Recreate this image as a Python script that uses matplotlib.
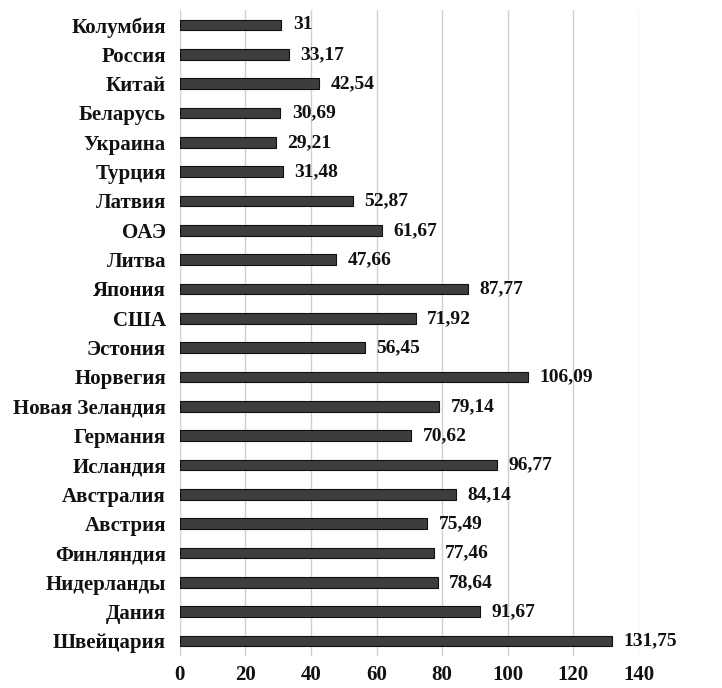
import numpy as np
import matplotlib
matplotlib.use('Agg')
import matplotlib.pyplot as plt

# data, top to bottom as in the picture
countries = ['Колумбия', 'Россия', 'Китай', 'Беларусь', 'Украина', 'Турция', 'Латвия',
             'ОАЭ', 'Литва', 'Япония', 'США', 'Эстония', 'Норвегия', 'Новая Зеландия',
             'Германия', 'Исландия', 'Австралия', 'Австрия', 'Финляндия', 'Нидерланды',
             'Дания', 'Швейцария']
values = [31, 33.17, 42.54, 30.69, 29.21, 31.48, 52.87, 61.67, 47.66, 87.77, 71.92,
          56.45, 106.09, 79.14, 70.62, 96.77, 84.14, 75.49, 77.46, 78.64, 91.67, 131.75]
ticks = [0, 20, 40, 60, 80, 100, 120, 140]

plt.rcParams['font.family'] = ['Liberation Serif', 'DejaVu Serif']

fig = plt.figure(figsize=(7.22, 6.88), dpi=100)
ax = fig.add_axes([0.249, 0.047, 0.636, 0.938])

y = np.arange(len(countries))
ax.barh(y, values, height=0.36, color='#3d3d3d', edgecolor='#111111', linewidth=0.8, zorder=3)

# value labels with comma decimals
for yi, v in zip(y, values):
    lab = ('%g' % v).replace('.', ',')
    ax.text(v + 3.5, yi, lab, va='center', ha='left', fontsize=14, fontweight='bold', color='#111111')

ax.set_yticks(y)
ax.set_yticklabels(countries, fontsize=15, fontweight='bold', color='#111111')
ax.set_xticks(ticks)
ax.set_xticklabels([str(t) for t in ticks], fontsize=15, fontweight='bold', color='#111111')
ax.set_xlim(0, 140)
ax.set_ylim(len(countries) - 0.5, -0.5)

ax.grid(axis='x', color='#cfcfcf', linewidth=1.0, zorder=0)
for s in ax.spines.values():
    s.set_visible(False)
ax.tick_params(axis='both', length=0)
ax.tick_params(axis='y', pad=10)
ax.tick_params(axis='x', pad=7)

fig.savefig('out.png', dpi=100)
